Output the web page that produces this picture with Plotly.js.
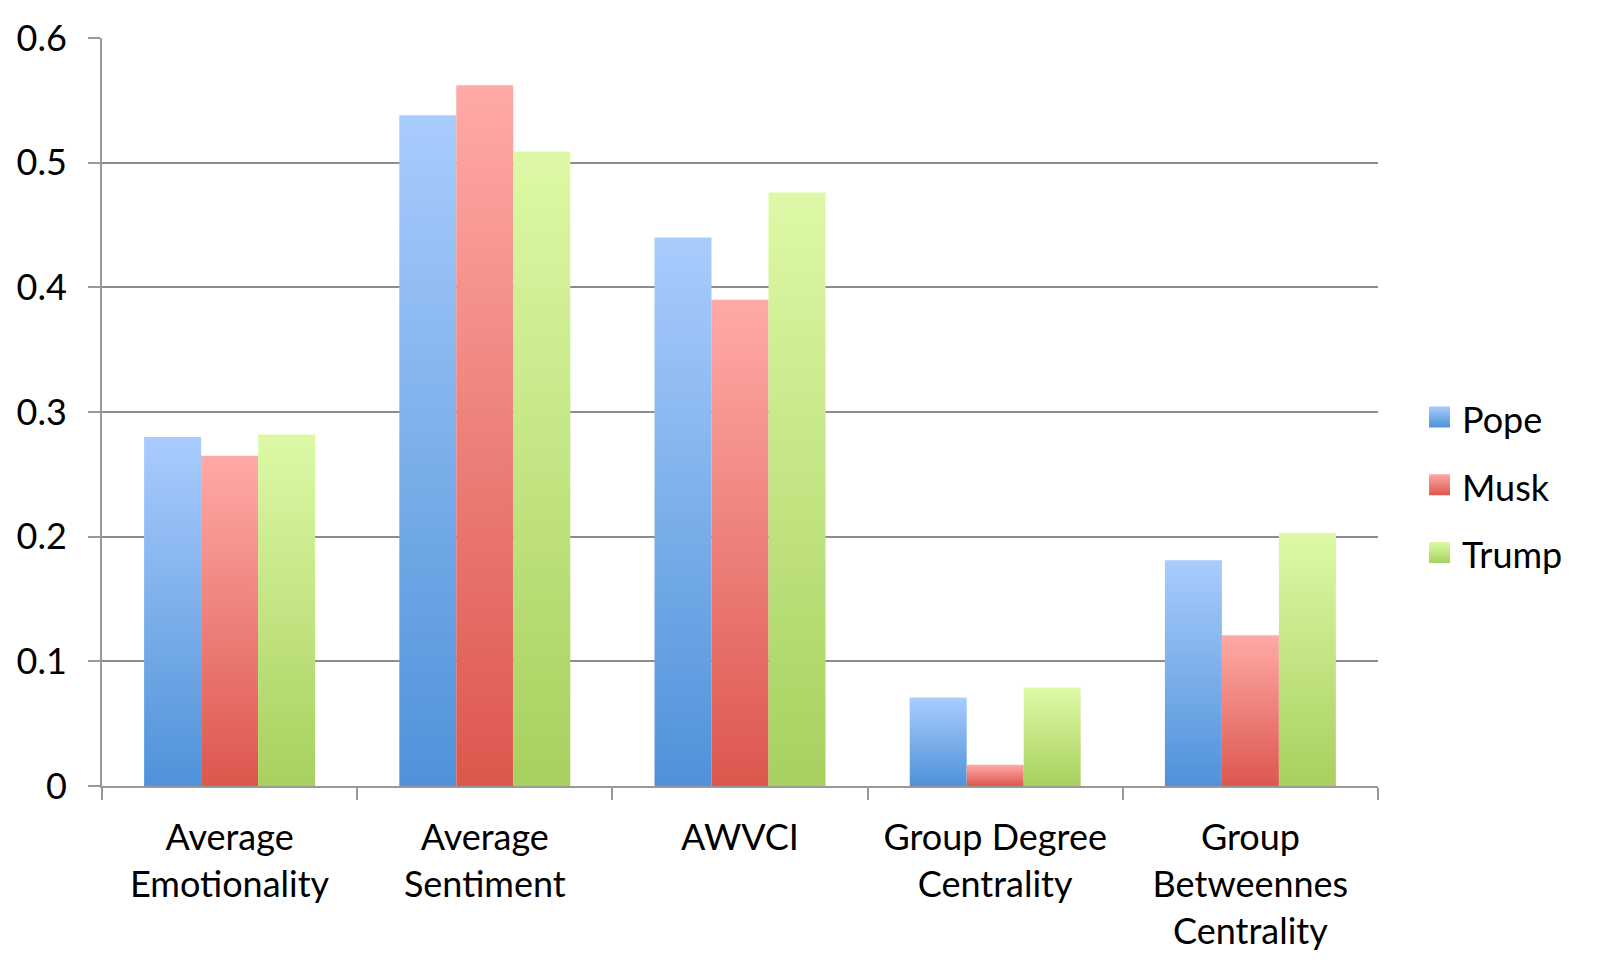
<!DOCTYPE html>
<html>
<head>
<meta charset="utf-8">
<script src="https://cdn.plot.ly/plotly-3.0.1.min.js"></script>
<style>
html,body{margin:0;padding:0;background:#fff;}
#chart{width:1600px;height:970px;}
</style>
</head>
<body>
<div id="chart"></div>
<script>
const categories = ["Average<br>Emotionality", "Average<br>Sentiment", "AWVCI", "Group Degree<br>Centrality", "Group<br>Betweennes<br>Centrality"];
const seriesNames = ["Pope", "Musk", "Trump"];
const popeValues  = [0.280, 0.538, 0.440, 0.071, 0.181];
const muskValues  = [0.265, 0.562, 0.390, 0.017, 0.121];
const trumpValues = [0.282, 0.509, 0.476, 0.079, 0.203];
const yTicks = [0, 0.1, 0.2, 0.3, 0.4, 0.5, 0.6];
const yTickLabels = ["0", "0.1", "0.2", "0.3", "0.4", "0.5", "0.6"];

const topColors = ["#a9ccfd", "#ffaaa6", "#ddf9a6"];
const bottomColors = ["#4f92d9", "#dc574e", "#a8d05f"];
const gradIds = ["gPope", "gMusk", "gTrump"];
const allValues = [popeValues, muskValues, trumpValues];

const FONT = "Lato, 'Open Sans', sans-serif";

const traces = seriesNames.map((name, i) => ({
  type: "bar",
  name: name,
  x: categories,
  y: allValues[i],
  legendgroup: name,
  marker: {color: bottomColors[i], line: {width: 0}},
  hoverinfo: "x+y+name"
}));

const layout = {
  width: 1600,
  height: 970,
  paper_bgcolor: "#ffffff",
  plot_bgcolor: "#ffffff",
  margin: {l: 102, r: 222, t: 38, b: 184},
  barmode: "group",
  bargap: 0.33,
  bargroupgap: 0,
  font: {family: FONT, size: 36, color: "#000"},
  xaxis: {
    type: "category",
    showline: true,
    linecolor: "#999999",
    linewidth: 2,
    ticks: "outside",
    tickson: "boundaries",
    ticklen: 12,
    tickwidth: 2,
    tickcolor: "#999999",
    showgrid: false,
    ticklabelstandoff: 19,
    tickfont: {family: FONT, size: 36, color: "#000"},
    fixedrange: true
  },
  yaxis: {
    range: [0, 0.6],
    tickvals: yTicks,
    ticktext: yTickLabels,
    showline: true,
    linecolor: "#999999",
    linewidth: 2,
    ticks: "outside",
    ticklen: 12,
    tickwidth: 2,
    tickcolor: "#999999",
    showgrid: true,
    gridcolor: "#8c8c8c",
    gridwidth: 2,
    zeroline: false,
    ticklabelstandoff: 14,
    tickfont: {family: FONT, size: 36, color: "#000"},
    fixedrange: true
  },
  showlegend: true,
  legend: {
    x: 1.0345,
    xanchor: "left",
    y: 0.40,
    yanchor: "middle",
    font: {family: FONT, size: 36, color: "#000"},
    tracegroupgap: 18,
    bgcolor: "rgba(0,0,0,0)"
  }
};

Plotly.newPlot("chart", traces, layout, {displayModeBar: false, staticPlot: true}).then(gd => {
  const svg = gd.querySelector("svg.main-svg");
  const ns = "http://www.w3.org/2000/svg";
  let defs = svg.querySelector("defs");
  if (!defs) { defs = document.createElementNS(ns, "defs"); svg.insertBefore(defs, svg.firstChild); }
  gradIds.forEach((id, i) => {
    const lg = document.createElementNS(ns, "linearGradient");
    lg.setAttribute("id", id);
    lg.setAttribute("x1", "0"); lg.setAttribute("y1", "0");
    lg.setAttribute("x2", "0"); lg.setAttribute("y2", "1");
    const s1 = document.createElementNS(ns, "stop");
    s1.setAttribute("offset", "0"); s1.setAttribute("stop-color", topColors[i]);
    const s2 = document.createElementNS(ns, "stop");
    s2.setAttribute("offset", "1"); s2.setAttribute("stop-color", bottomColors[i]);
    lg.appendChild(s1); lg.appendChild(s2);
    defs.appendChild(lg);
  });
  const bartraces = gd.querySelectorAll(".barlayer .trace.bars");
  bartraces.forEach((t, i) => {
    t.querySelectorAll("path").forEach(p => { p.style.fill = "url(#" + gradIds[i] + ")"; });
  });
  const legendTraces = gd.querySelectorAll(".legend .traces");
  legendTraces.forEach((t, i) => {
    const txt = t.querySelector(".legendtext");
    t.querySelectorAll(".legendpoints path").forEach(p => {
      p.style.fill = "url(#" + gradIds[i] + ")";
      p.setAttribute("d", "M10.5,10.5H-10.5V-10.5H10.5Z");
      p.removeAttribute("transform");
      if (txt) {
        const tr = txt.getBoundingClientRect();
        const pr = p.getBoundingClientRect();
        const dx = (tr.left - 12 - 21) - pr.left;
        const dy = (tr.top + tr.height * 0.22 + 10.5) - (pr.top + pr.height / 2);
        p.setAttribute("transform", "translate(" + dx.toFixed(1) + "," + dy.toFixed(1) + ")");
      }
    });
  });
});
</script>
</body>
</html>
